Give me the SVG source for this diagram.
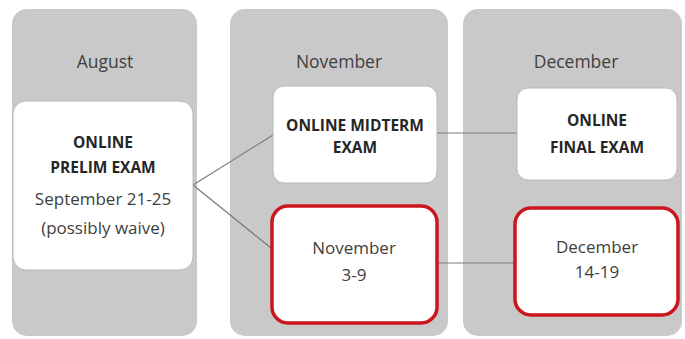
<svg xmlns="http://www.w3.org/2000/svg" width="685" height="339" viewBox="0 0 685 339">
<style>
.panel{fill:#c9c9c9}
.node{fill:#ffffff;stroke:#b8b8b8;stroke-width:1}
.red{fill:#ffffff;stroke:#cc161e;stroke-width:3.5}
.hdr{font-family:"Open Sans",sans-serif;font-size:17.5px;fill:#404040;text-anchor:middle}
.b{font-family:"Open Sans",sans-serif;font-size:15.5px;font-weight:bold;fill:#262626;text-anchor:middle}
.t{font-family:"Open Sans",sans-serif;font-size:17px;fill:#404040;text-anchor:middle}
.conn{stroke:#7a7a7a;stroke-width:1.2;fill:none}
</style>
<rect width="685" height="339" fill="#ffffff"/>
<g id="col-august">
<rect class="panel" x="12" y="9" width="185" height="327" rx="15"/>
<text class="hdr" x="105" y="68">August</text>
</g>
<g id="col-november">
<rect class="panel" x="230" y="9" width="218" height="327" rx="15"/>
<text class="hdr" x="339" y="68">November</text>
</g>
<g id="col-december">
<rect class="panel" x="463" y="9" width="219" height="327" rx="15"/>
<text class="hdr" x="576" y="68">December</text>
</g>
<g id="connectors">
<line class="conn" x1="193" y1="185" x2="273" y2="135"/>
<line class="conn" x1="193" y1="185" x2="271" y2="248"/>
<line class="conn" x1="437" y1="133" x2="517" y2="133"/>
<line class="conn" x1="437" y1="263" x2="515" y2="263"/>
</g>
<g id="prelim">
<rect class="node" x="13" y="101" width="180" height="169" rx="13"/>
<text class="b" x="103" y="148">ONLINE</text>
<text class="b" x="103" y="173">PRELIM EXAM</text>
<text class="t" x="103" y="205">September 21-25</text>
<text class="t" x="103" y="234">(possibly waive)</text>
</g>
<g id="midterm">
<rect class="node" x="273" y="86" width="164" height="97" rx="11"/>
<text class="b" x="355" y="131">ONLINE MIDTERM</text>
<text class="b" x="355" y="153">EXAM</text>
</g>
<g id="nov-dates">
<rect class="red" x="272" y="206" width="165" height="117" rx="16"/>
<text class="t" x="354" y="254">November</text>
<text class="t" x="354" y="281">3-9</text>
</g>
<g id="final">
<rect class="node" x="517" y="88" width="160" height="92" rx="11"/>
<text class="b" x="597" y="126">ONLINE</text>
<text class="b" x="597" y="153">FINAL EXAM</text>
</g>
<g id="dec-dates">
<rect class="red" x="515" y="208" width="163" height="107" rx="16"/>
<text class="t" x="597" y="253">December</text>
<text class="t" x="597" y="278">14-19</text>
</g>
</svg>
